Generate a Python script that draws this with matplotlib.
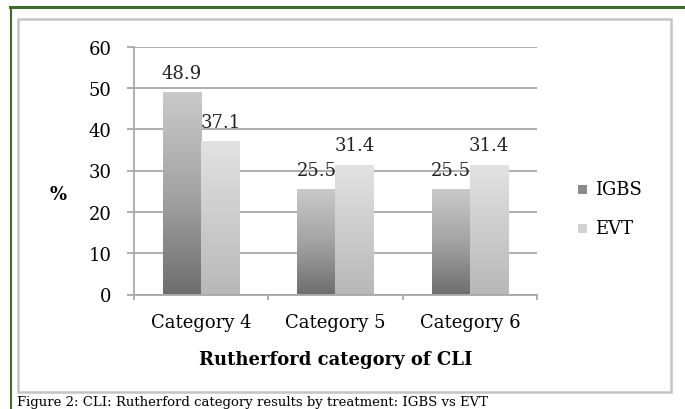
import numpy as np
import matplotlib
matplotlib.use("Agg")
import matplotlib.pyplot as plt
from matplotlib.patches import Rectangle
from matplotlib.colors import LinearSegmentedColormap

# data
categories = ["Category 4", "Category 5", "Category 6"]
igbs = [48.9, 25.5, 25.5]
evt = [37.1, 31.4, 31.4]
series_names = ["IGBS", "EVT"]

plt.rcParams['font.family'] = ['DejaVu Serif']

fig = plt.figure(figsize=(6.85, 4.10), dpi=100)
W, H = 685, 410

# outer green border and inner chart frame
fig.add_artist(plt.Line2D([10 / W, 1.0], [1 - 7.5 / H, 1 - 7.5 / H], color="#3f6a2c", lw=2.2))
fig.add_artist(plt.Line2D([10.5 / W, 10.5 / W], [0, 1 - 7.5 / H], color="#3f6a2c", lw=1.5))
fig.add_artist(Rectangle((18 / W, 1 - 393 / H), (671 - 18) / W, (393 - 20) / H,
                         transform=fig.transFigure, fill=False, ec="#c4c4c4", lw=1.8))

ax = fig.add_axes([134 / W, 1 - 295.5 / H, 403 / W, 248 / H])

x = np.arange(len(categories))
bw = 0.285
dark = LinearSegmentedColormap.from_list("d", ["#6e6e6e", "#a4a4a4", "#cacaca"])
light = LinearSegmentedColormap.from_list("l", ["#b8b8b8", "#cdcdcd", "#e2e2e2"])
grad = np.linspace(0, 1, 256).reshape(-1, 1)

for vals, offset, cmap in [(igbs, -bw / 2, dark), (evt, bw / 2, light)]:
    bars = ax.bar(x + offset, vals, bw, color="none", zorder=3)
    for b, v in zip(bars, vals):
        img = ax.imshow(grad, cmap=cmap, aspect="auto", origin="lower",
                        extent=[b.get_x(), b.get_x() + bw, 0, v], zorder=3)
        img.set_clip_path(b)
        ax.text(b.get_x() + bw / 2, v + 3.5, f"{v}", ha="center", va="baseline",
                fontsize=13, color="#222222", zorder=4)

ax.set_aspect("auto")
ax.set_xlim(-0.5, 2.5)
ax.set_ylim(0, 60)

ax.set_yticks(range(0, 61, 10))
ax.yaxis.grid(True, color="#a8a8a8", lw=1.3)
ax.set_axisbelow(True)
for s in ["top", "right"]:
    ax.spines[s].set_visible(False)
for s in ["left", "bottom"]:
    ax.spines[s].set_color("#a8a8a8")
    ax.spines[s].set_linewidth(1.3)
ax.tick_params(axis="y", length=5, color="#a8a8a8", width=1.3, labelsize=13, pad=11)
ax.set_xticks(x)
ax.set_xticklabels(categories, fontsize=13)
ax.set_xticks([-0.5, 0.5, 1.5, 2.5], minor=True)
ax.tick_params(axis="x", which="major", length=0, pad=13)
ax.tick_params(axis="x", which="minor", length=3.5, color="#a8a8a8", width=1.3)
ax.set_xlabel("Rutherford category of CLI", fontsize=13, fontweight="bold", labelpad=14)
fig.text(58 / W, 1 - 195 / H, "%", fontsize=13, fontweight="bold", ha="center", va="center")

# legend drawn as swatches and labels
for i, (name, c) in enumerate(zip(series_names, ["#8a8a8a", "#d2d2d2"])):
    yy = 1 - (190 + 39 * i) / H
    fig.add_artist(Rectangle((578 / W, yy - 4.5 / H), 9 / W, 9 / H,
                             transform=fig.transFigure, fc=c, ec="none"))
    fig.text(595 / W, yy, name, fontsize=13, va="center", ha="left")

fig.text(17 / W, 1 - 409.5 / H,
         "Figure 2: CLI: Rutherford category results by treatment: IGBS vs EVT",
         fontsize=9.5, ha="left", va="bottom")

fig.savefig("out.png", dpi=100)
